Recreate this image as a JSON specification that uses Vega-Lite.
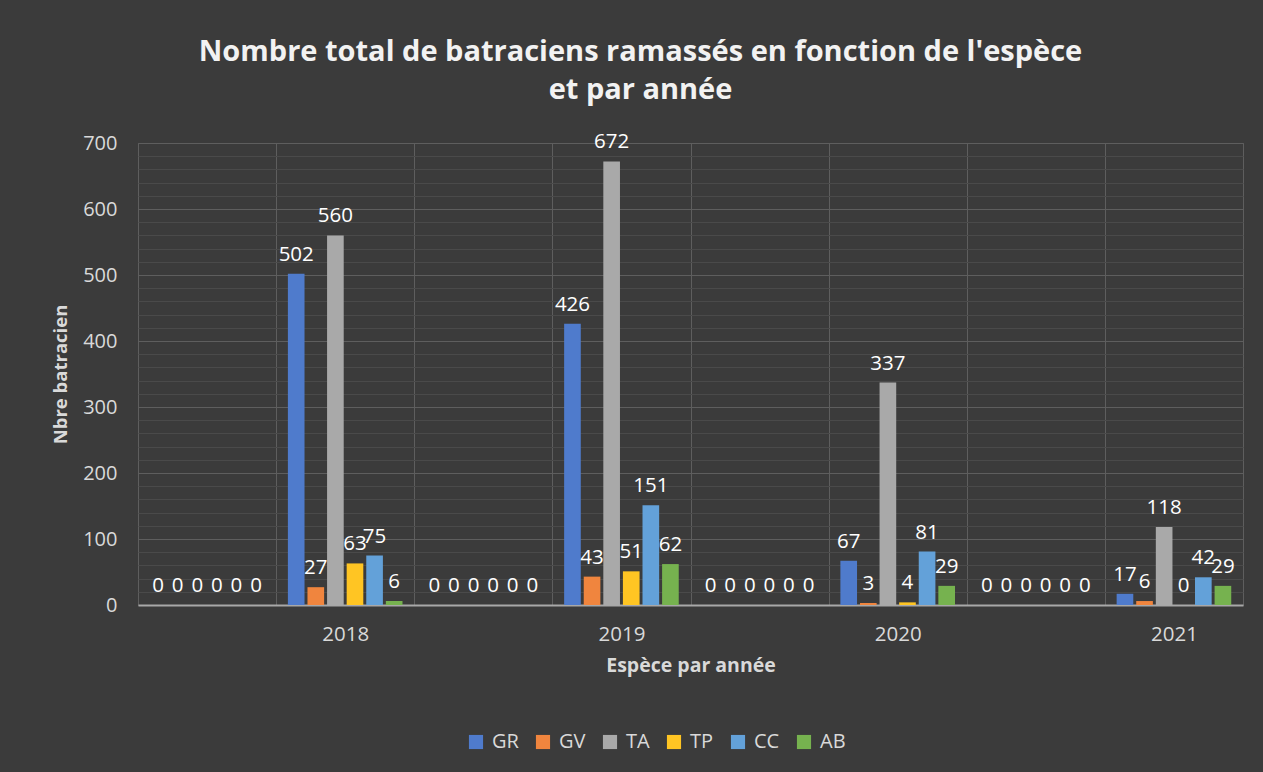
{
  "$schema": "https://vega.github.io/schema/vega-lite/v6.json",
  "width": 1105,
  "height": 462,
  "autosize": {"type": "none"},
  "padding": {"left": 138, "top": 143, "right": 20, "bottom": 167},
  "background": "#3b3b3b",
  "title": {
    "text": ["Nombre total de batraciens ramassés en fonction de l'espèce", "et par année"],
    "font": "Open Sans",
    "fontSize": 29,
    "fontWeight": "bold",
    "color": "#f2f2f2",
    "anchor": "middle",
    "frame": "group",
    "dx": -50,
    "offset": 27,
    "lineHeight": 38
  },
  "config": {
    "view": {"stroke": "#5c5c5c", "strokeWidth": 1},
    "axis": {"labelFont": "Open Sans", "titleFont": "Open Sans", "labelColor": "#d9d9d9", "titleColor": "#d9d9d9"},
    "legend": {"labelFont": "Open Sans"}
  },
  "data": {
    "values": [
      {"annee": " ", "espece": "GR", "n": 0}, {"annee": " ", "espece": "GV", "n": 0}, {"annee": " ", "espece": "TA", "n": 0},
      {"annee": " ", "espece": "TP", "n": 0}, {"annee": " ", "espece": "CC", "n": 0}, {"annee": " ", "espece": "AB", "n": 0},
      {"annee": "2018", "espece": "GR", "n": 502}, {"annee": "2018", "espece": "GV", "n": 27}, {"annee": "2018", "espece": "TA", "n": 560},
      {"annee": "2018", "espece": "TP", "n": 63}, {"annee": "2018", "espece": "CC", "n": 75}, {"annee": "2018", "espece": "AB", "n": 6},
      {"annee": "  ", "espece": "GR", "n": 0}, {"annee": "  ", "espece": "GV", "n": 0}, {"annee": "  ", "espece": "TA", "n": 0},
      {"annee": "  ", "espece": "TP", "n": 0}, {"annee": "  ", "espece": "CC", "n": 0}, {"annee": "  ", "espece": "AB", "n": 0},
      {"annee": "2019", "espece": "GR", "n": 426}, {"annee": "2019", "espece": "GV", "n": 43}, {"annee": "2019", "espece": "TA", "n": 672},
      {"annee": "2019", "espece": "TP", "n": 51}, {"annee": "2019", "espece": "CC", "n": 151}, {"annee": "2019", "espece": "AB", "n": 62},
      {"annee": "   ", "espece": "GR", "n": 0}, {"annee": "   ", "espece": "GV", "n": 0}, {"annee": "   ", "espece": "TA", "n": 0},
      {"annee": "   ", "espece": "TP", "n": 0}, {"annee": "   ", "espece": "CC", "n": 0}, {"annee": "   ", "espece": "AB", "n": 0},
      {"annee": "2020", "espece": "GR", "n": 67}, {"annee": "2020", "espece": "GV", "n": 3}, {"annee": "2020", "espece": "TA", "n": 337},
      {"annee": "2020", "espece": "TP", "n": 4}, {"annee": "2020", "espece": "CC", "n": 81}, {"annee": "2020", "espece": "AB", "n": 29},
      {"annee": "    ", "espece": "GR", "n": 0}, {"annee": "    ", "espece": "GV", "n": 0}, {"annee": "    ", "espece": "TA", "n": 0},
      {"annee": "    ", "espece": "TP", "n": 0}, {"annee": "    ", "espece": "CC", "n": 0}, {"annee": "    ", "espece": "AB", "n": 0},
      {"annee": "2021", "espece": "GR", "n": 17}, {"annee": "2021", "espece": "GV", "n": 6}, {"annee": "2021", "espece": "TA", "n": 118},
      {"annee": "2021", "espece": "TP", "n": 0}, {"annee": "2021", "espece": "CC", "n": 42}, {"annee": "2021", "espece": "AB", "n": 29}
    ]
  },
  "encoding": {
    "x": {
      "field": "annee",
      "type": "nominal",
      "sort": null,
      "scale": {"paddingInner": 0, "paddingOuter": 0},
      "axis": {
        "title": "Espèce par année",
        "titleFontSize": 19.5,
        "titleFontWeight": "bold",
        "titlePadding": 12,
        "labelFontSize": 20.5,
        "labelAngle": 0,
        "labelPadding": 19,
        "ticks": false,
        "tickBand": "extent",
        "grid": true,
        "gridColor": "#5e5e5e",
        "gridWidth": 1,
        "domainColor": "#a8a8a8",
        "domainWidth": 2
      }
    },
    "xOffset": {
      "field": "espece",
      "type": "nominal",
      "sort": ["GR", "GV", "TA", "TP", "CC", "AB"],
      "scale": {"paddingInner": 0.15, "paddingOuter": 0.6}
    }
  },
  "layer": [
    {
      "mark": {"type": "bar"},
      "encoding": {
        "y": {
          "field": "n",
          "type": "quantitative",
          "scale": {"domain": [0, 700], "nice": false},
          "axis": {
            "orient": "left",
            "title": "Nbre batracien",
            "titleFontSize": 18.5,
            "titleFontWeight": "bold",
            "titlePadding": 12,
            "labelFontSize": 20,
            "labelPadding": 21,
            "ticks": false,
            "domain": false,
            "values": [0, 100, 200, 300, 400, 500, 600, 700],
            "grid": true,
            "gridColor": "#5e5e5e",
            "gridWidth": 1
          }
        },
        "color": {
          "field": "espece",
          "type": "nominal",
          "sort": ["GR", "GV", "TA", "TP", "CC", "AB"],
          "scale": {
            "domain": ["GR", "GV", "TA", "TP", "CC", "AB"],
            "range": ["#4f7bcc", "#f0853e", "#a9a9a9", "#ffc523", "#63a1d9", "#76b24f"]
          },
          "legend": {
            "title": null,
            "orient": "none",
            "direction": "horizontal",
            "legendX": 328,
            "legendY": 589,
            "symbolType": "square",
            "symbolSize": 200,
            "symbolStrokeWidth": 0,
            "labelFontSize": 20,
            "labelColor": "#d9d9d9",
            "labelOffset": 6,
            "columnPadding": 14
          }
        }
      }
    },
    {
      "mark": {"type": "text", "baseline": "alphabetic", "dy": -13, "fontSize": 20.5, "font": "Open Sans", "color": "#ffffff"},
      "encoding": {
        "y": {
          "field": "n",
          "type": "quantitative",
          "axis": {
            "orient": "left",
            "title": null,
            "labels": false,
            "ticks": false,
            "domain": false,
            "values": [20, 40, 60, 80, 120, 140, 160, 180, 220, 240, 260, 280, 320, 340, 360, 380, 420, 440, 460, 480, 520, 540, 560, 580, 620, 640, 660, 680],
            "grid": true,
            "gridColor": "#4a4a4a",
            "gridWidth": 1
          }
        },
        "text": {"field": "n", "type": "quantitative"}
      }
    }
  ],
  "resolve": {"axis": {"y": "independent"}}
}
